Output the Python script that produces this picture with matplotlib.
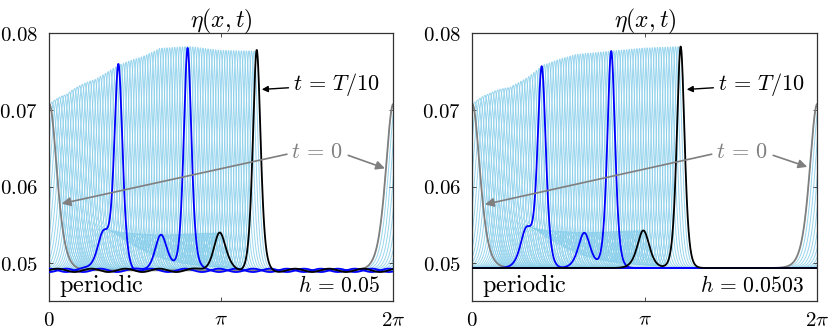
import numpy as np
import matplotlib
matplotlib.use('Agg')
import matplotlib.pyplot as plt

plt.rcParams['mathtext.fontset'] = 'cm'
plt.rcParams['font.family'] = 'serif'
plt.rcParams['font.serif'] = ['DejaVu Serif']

# ---- values ------------------------------------------------------------
panel_h = ['0.05', '0.0503']
base_level = [0.0491, 0.0494]            # flat water level
peak_end = [3.788, 3.795]                # crest position at t = T/10

# crest height envelope (crest position -> height)
env_x_left = [0.0, 0.32, 0.53, 0.84, 1.14, 1.28, 1.44, 1.75, 2.02, 2.54, 3.12, 3.79]
env_a_left = [0.0708, 0.0708, 0.0717, 0.0730, 0.0748, 0.0755, 0.0761, 0.0770, 0.0780, 0.0783, 0.0778, 0.0777]
env_x_right = [0.0, 0.30, 0.69, 1.00, 1.29, 1.60, 1.90, 2.54, 3.12, 3.80]
env_a_right = [0.0708, 0.0709, 0.0717, 0.0735, 0.0755, 0.0765, 0.0772, 0.0777, 0.0781, 0.0783]

# shape of the crest and of the trailing hump vs. time fraction s = t/(T/10)
s_key = [0.0, 0.1, 0.2, 1/3, 2/3, 1.0]
crest_width = [0.185, 0.15, 0.12, 0.10, 0.094, 0.094]
hump_dist = [0.0, 0.10, 0.18, 0.28, 0.49, 0.68]
hump_height = [0.0, 0.002, 0.004, 0.0050, 0.0046, 0.0049]
hump_width = 0.145

# small ripples on the flat level (h = 0.05 only)
ripple_amp = [0.00022, 0.0]
ripple_len = 0.62
ripple_phase = {'blue1': 0.0, 'blue2': 0.31, 'black': 0.15}

n_snap = 82
highlight_s = [1/3, 2/3, 1.0]
highlight_col = ['#0000ff', '#0000ff', 'k']
highlight_name = ['blue1', 'blue2', 'black']

# annotations (data coordinates)
lab_T10 = [(5.24, 0.0733), (5.26, 0.0733)]
tip_T10 = [(3.88, 0.0727), (3.905, 0.0727)]
lab_t0 = [(4.89, 0.0646), (4.917, 0.0646)]
start_t0_l = [(4.34, 0.06425), (4.36, 0.06425)]
tip_t0_l = [(0.226, 0.0578), (0.231, 0.0577)]
start_t0_r = [(5.46, 0.0641), (5.48, 0.0641)]
tip_t0_r = [(6.13, 0.0624), (6.10, 0.0626)]

x = np.linspace(0, 2 * np.pi, 1500)


def sech2(z):
    return 1.0 / np.cosh(z) ** 2


def profile(s, base, env_x, env_a, pend, ripple=0.0, phase=0.0):
    p = s * pend
    a = np.interp(p, env_x, env_a)
    w = np.interp(s, s_key, crest_width)
    d = np.interp(s, s_key, hump_dist)
    b = np.interp(s, s_key, hump_height)
    y = np.full_like(x, base)
    for sh in (-2 * np.pi, 0.0, 2 * np.pi):
        y += (a - base) * sech2((x - p - sh) / w)
        y += b * sech2((x - (p - d) - sh) / hump_width)
    if ripple:
        y += ripple * np.cos(2 * np.pi * (x - phase) / ripple_len)
    return y


fig = plt.figure(figsize=(8.3, 3.29), dpi=100)
ax_pos = [[0.0594, 0.0851, 0.4145, 0.8155], [0.569, 0.0851, 0.4157, 0.8155]]
envs = [(env_x_left, env_a_left), (env_x_right, env_a_right)]

for i in range(2):
    ax = fig.add_axes(ax_pos[i])
    base = base_level[i]
    ex, ea = envs[i]

    for s in np.linspace(0, 1, n_snap):
        ax.plot(x, profile(s, base, ex, ea, peak_end[i]), color='#87ceeb',
                lw=0.7, alpha=0.85, zorder=1)

    ax.plot(x, profile(0.0, base, ex, ea, peak_end[i]), color='#7f7f7f', lw=1.3, zorder=2)
    for s, c, nm in zip(highlight_s, highlight_col, highlight_name):
        ax.plot(x, profile(s, base, ex, ea, peak_end[i], ripple_amp[i], ripple_phase[nm]),
                color=c, lw=1.3, zorder=3)

    ax.annotate(r'$t\,=\,T/10$', xy=tip_T10[i], xytext=lab_T10[i], fontsize=16,
                ha='center', va='center',
                arrowprops=dict(arrowstyle='-|>', color='k', lw=1.0, mutation_scale=9,
                                shrinkA=1, shrinkB=0), zorder=5)
    ax.text(lab_t0[i][0], lab_t0[i][1], r'$t\,=\,0$', fontsize=16, color='#7f7f7f',
            ha='center', va='center', zorder=5)
    for st, tp in ((start_t0_l[i], tip_t0_l[i]), (start_t0_r[i], tip_t0_r[i])):
        ax.annotate('', xy=tp, xytext=st,
                    arrowprops=dict(arrowstyle='-|>', color='#7f7f7f', lw=1.2,
                                    mutation_scale=13, shrinkA=0, shrinkB=0), zorder=5)

    ax.text(0.027, 0.056, r'$\mathrm{periodic}$', transform=ax.transAxes, fontsize=17.5,
            ha='left', va='center')
    ax.text(0.962, 0.056, r'$h\,=\,%s$' % panel_h[i], transform=ax.transAxes, fontsize=15.5,
            ha='right', va='center')

    ax.set_xlim(0, 2 * np.pi)
    ax.set_ylim(0.0451, 0.0801)
    ax.set_xticks([0, np.pi, 2 * np.pi])
    ax.set_xticklabels([r'$0$', r'$\pi$', r'$2\pi$'])
    ax.set_yticks([0.05, 0.06, 0.07, 0.08])
    ax.set_yticklabels([r'$0.05$', r'$0.06$', r'$0.07$', r'$0.08$'])
    ax.tick_params(direction='in', top=True, right=True, length=3, width=0.6,
                   labelsize=15, color='#333333')
    ax.tick_params(axis='x', pad=7)
    ax.tick_params(axis='y', pad=8)
    for sp in ax.spines.values():
        sp.set_color('#333333')
        sp.set_linewidth(0.9)
    ax.set_title(r'$\eta(x,t)$', fontsize=17, pad=4)

plt.savefig('out.png', dpi=100)
